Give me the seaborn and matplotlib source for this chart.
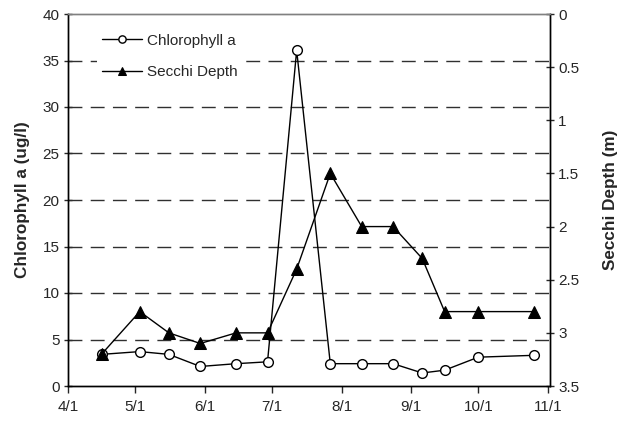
import matplotlib
matplotlib.use("Agg")
import matplotlib.pyplot as plt
import matplotlib.dates as mdates
from matplotlib.ticker import FuncFormatter
import seaborn as sns
import pandas as pd

# ---- data ----
dates = ["2003-04-16", "2003-05-03", "2003-05-16", "2003-05-30", "2003-06-15",
         "2003-06-29", "2003-07-12", "2003-07-27", "2003-08-10", "2003-08-24",
         "2003-09-06", "2003-09-16", "2003-10-01", "2003-10-26"]
chlorophyll = [3.4, 3.7, 3.4, 2.1, 2.4, 2.6, 36.1, 2.4, 2.4, 2.4, 1.4, 1.7, 3.1, 3.3]
secchi = [3.2, 2.8, 3.0, 3.1, 3.0, 3.0, 2.4, 1.5, 2.0, 2.0, 2.3, 2.8, 2.8, 2.8]
left_ticks = [0, 5, 10, 15, 20, 25, 30, 35, 40]
right_ticks = [0, 0.5, 1, 1.5, 2, 2.5, 3, 3.5]

df = pd.DataFrame({"date": pd.to_datetime(dates), "chl": chlorophyll, "secchi": secchi})

sns.set_style("white")
plt.rcParams["font.family"] = ["Liberation Sans", "DejaVu Sans"]
plt.rcParams["font.size"] = 11

fig = plt.figure(figsize=(6.26, 4.25), dpi=100)
ax = fig.add_axes([68 / 626, 39 / 425, 482 / 626, 372 / 425])
ax2 = ax.twinx()

sns.lineplot(data=df, x="date", y="chl", ax=ax, color="black", linewidth=1,
             marker="o", markersize=7, markerfacecolor="white",
             markeredgecolor="black", markeredgewidth=1, label="Chlorophyll a",
             legend=False, zorder=3)
sns.lineplot(data=df, x="date", y="secchi", ax=ax2, color="black", linewidth=1,
             marker="^", markersize=8.5, markerfacecolor="black",
             markeredgecolor="black", label="Secchi Depth", legend=False, zorder=3)

# left axis
ax.set_ylim(0, 40)
ax.set_yticks(left_ticks)
ax.set_xlim(pd.Timestamp("2003-04-01"), pd.Timestamp("2003-11-02"))
ax.xaxis.set_major_locator(mdates.MonthLocator())
ax.xaxis.set_major_formatter(FuncFormatter(
    lambda v, p: f"{mdates.num2date(v).month}/{mdates.num2date(v).day}"))
ax.set_xlabel("")
ax.set_ylabel("Chlorophyll a (ug/l)", fontweight="bold", fontsize=12.3, labelpad=9)
for y in left_ticks[1:-1]:
    ax.axhline(y, color="#303030", linewidth=1, linestyle=(0, (10, 6)), zorder=1)

# right axis (inverted)
ax2.set_ylim(3.5, 0)
ax2.set_yticks(right_ticks)
ax2.set_yticklabels([f"{t:g}" for t in right_ticks])
ax2.set_ylabel("Secchi Depth (m)", fontweight="bold", fontsize=12.3, labelpad=17)

for a in (ax, ax2):
    for s in ("left", "right", "bottom"):
        a.spines[s].set_color("black")
        a.spines[s].set_linewidth(1)
    a.spines["top"].set_color("#808080")
    a.spines["top"].set_linewidth(1)
ax.tick_params(axis="y", direction="inout", length=6, width=1, labelsize=11, left=True, pad=3)
ax.tick_params(axis="x", direction="out", length=5, width=1, labelsize=11, bottom=True, pad=5)
ax2.tick_params(axis="y", direction="inout", length=6, width=1, labelsize=11, right=True, pad=3)

h1, l1 = ax.get_legend_handles_labels()
h2, l2 = ax2.get_legend_handles_labels()
leg = ax2.legend(h1 + h2, l1 + l2, loc="upper left", bbox_to_anchor=(0.045, 0.98),
                 frameon=True, facecolor="white", edgecolor="white", framealpha=1,
                 handlelength=2.6, handletextpad=0.35, labelspacing=1.15, fontsize=11,
                 borderpad=0.3, markerscale=0.75)
leg.get_frame().set_linewidth(0)
leg.set_zorder(5)

fig.savefig("out.png", dpi=100)
